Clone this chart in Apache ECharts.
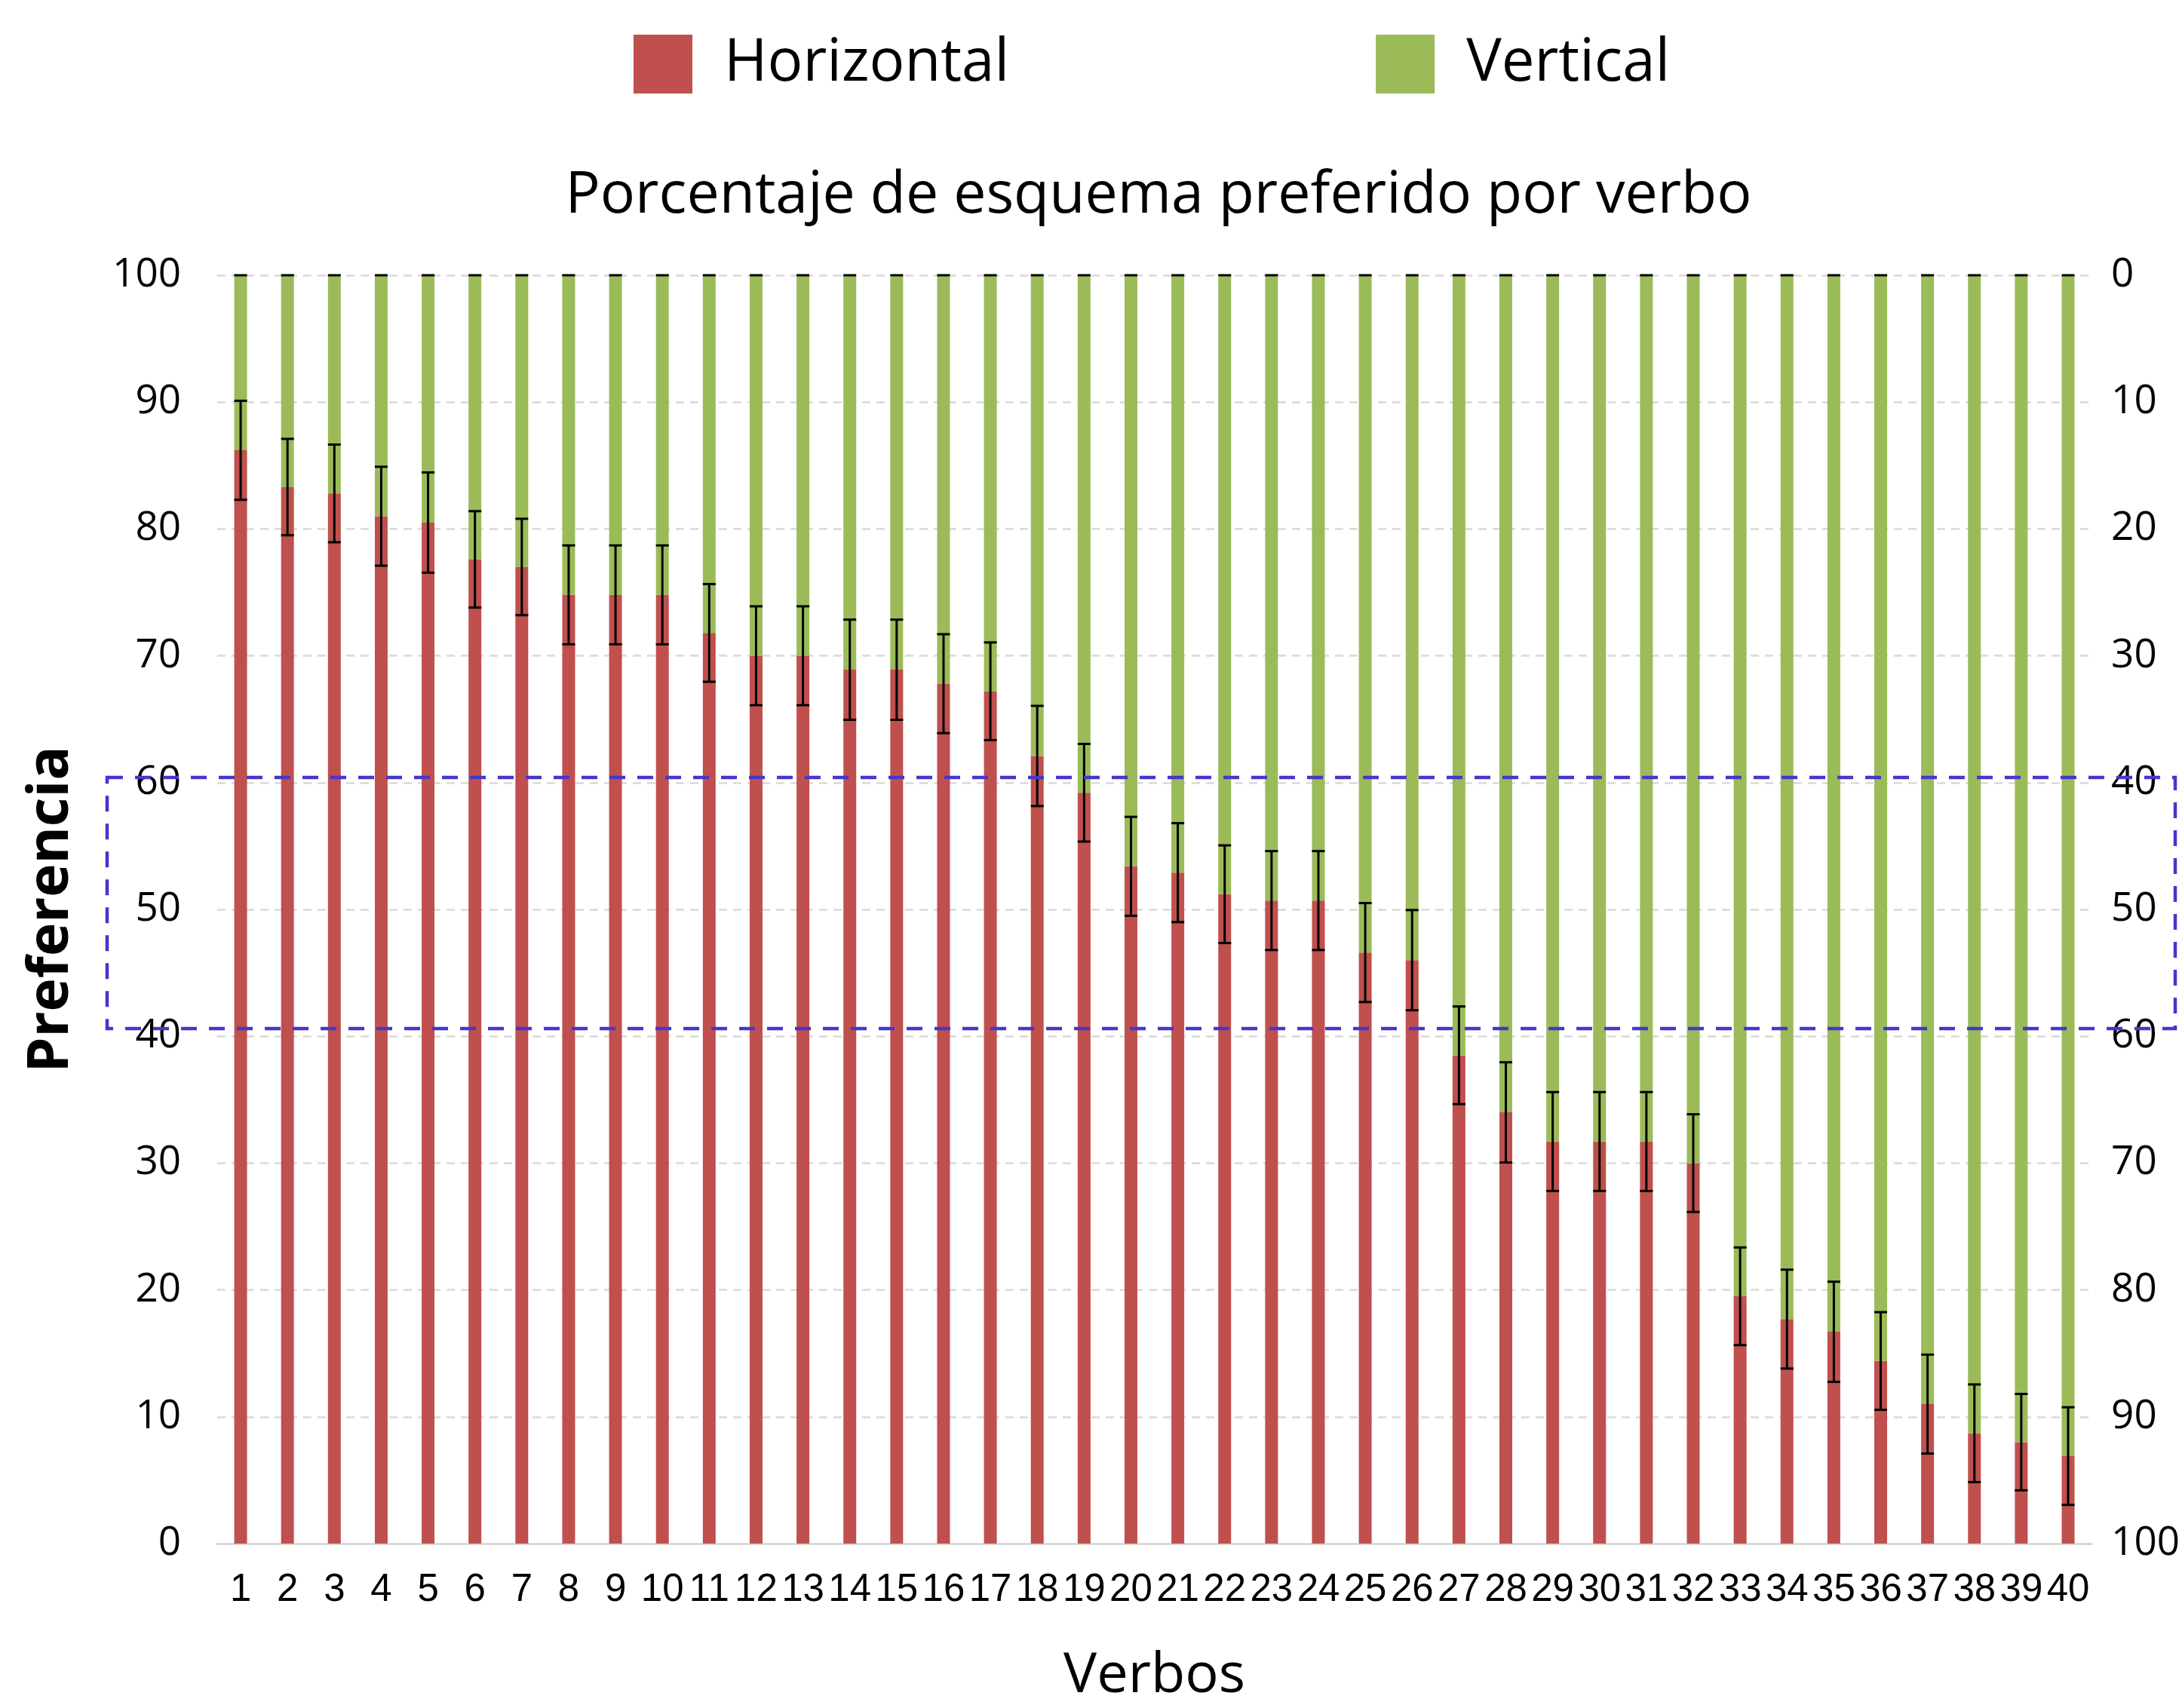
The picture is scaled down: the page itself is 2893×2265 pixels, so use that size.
<!DOCTYPE html>
<html>
<head>
<meta charset="utf-8">
<script src="https://cdn.jsdelivr.net/npm/echarts@6/dist/echarts.min.js"></script>
<style>
html,body{margin:0;padding:0;background:#fff;}
#chart{width:2893px;height:2265px;}
</style>
</head>
<body>
<div id="chart"></div>
<script>
const categories = ['1','2','3','4','5','6','7','8','9','10','11','12','13','14','15','16','17','18','19','20',
  '21','22','23','24','25','26','27','28','29','30','31','32','33','34','35','36','37','38','39','40'];
const horizontal = [86.2,83.3,82.8,81.0,80.5,77.6,77.0,74.8,74.8,74.8,71.8,70.0,70.0,68.9,68.9,67.8,67.2,62.1,59.2,53.4,
  52.9,51.2,50.7,50.7,46.6,46.0,38.5,34.0,31.7,31.7,31.7,30.0,19.5,17.7,16.7,14.4,11.0,8.7,8.0,6.9];
const vertical = horizontal.map(v => +(100 - v).toFixed(1));
const hErr = [3.9,3.8,3.85,3.9,3.95,3.8,3.8,3.9,3.9,3.9,3.85,3.9,3.9,3.95,3.95,3.9,3.85,3.95,3.85,3.9,
  3.9,3.85,3.9,3.9,3.9,3.95,3.85,3.95,3.9,3.9,3.9,3.85,3.85,3.9,3.95,3.85,3.9,3.85,3.8,3.85];
const leftTicks = {min:0, max:100, interval:10};
const bandLimits = [60.4, 40.6];

const RED = '#C0504D', GREEN = '#9BBB59', BLUE = '#4636CC';
const errData = horizontal.map((v, i) => [i, v - hErr[i], v + hErr[i]]);
const topCapData = horizontal.map((v, i) => [i, 100, 100]);

const CAP = 17;
function renderErr(params, api) {
  const x = api.value(0), lo = api.value(1), hi = api.value(2);
  const a = api.coord([x, hi]), b = api.coord([x, lo]);
  const st = {stroke:'#000', lineWidth:3};
  const ch = [];
  if (hi !== lo) ch.push({type:'line', shape:{x1:a[0], y1:a[1], x2:b[0], y2:b[1]}, style:st});
  ch.push({type:'line', shape:{x1:a[0]-CAP/2, y1:a[1], x2:a[0]+CAP/2, y2:a[1]}, style:st});
  if (hi !== lo) ch.push({type:'line', shape:{x1:b[0]-CAP/2, y1:b[1], x2:b[0]+CAP/2, y2:b[1]}, style:st});
  return {type:'group', children:ch};
}

const chart = echarts.init(document.getElementById('chart'), null, {renderer:'canvas'});
const FONT = 'Open Sans';
const option = {
  animation:false,
  backgroundColor:'#fff',
  title:{
    text:'Porcentaje de esquema preferido por verbo',
    left:1531, top:217, textAlign:'center',
    textStyle:{fontFamily:FONT, fontSize:77, fontWeight:'normal', color:'#000'}
  },
  legend:{
    data:['Horizontal','Vertical'],
    left:835, top:41, itemWidth:78, itemHeight:78, itemGap:486,
    icon:'rect',
    textStyle:{fontFamily:FONT, fontSize:78, color:'#000', padding:[0,0,0,37]}
  },
  grid:{left:288, right:118, top:365, bottom:207, containLabel:false},
  xAxis:{
    type:'category', data:categories,
    boundaryGap:true,
    axisLine:{show:true, lineStyle:{color:'#D9D9D9', width:3}},
    axisTick:{show:false},
    axisLabel:{interval:0, margin:36, fontFamily:'Liberation Sans', fontSize:51, color:'#000'},
    name:'Verbos', nameLocation:'middle', nameGap:139,
    nameTextStyle:{fontFamily:FONT, fontSize:74, color:'#000'}
  },
  yAxis:[{
    type:'value', min:leftTicks.min, max:leftTicks.max, interval:leftTicks.interval,
    axisLine:{show:false}, axisTick:{show:false},
    axisLabel:{margin:48, fontFamily:FONT, fontSize:53, color:'#000'},
    splitLine:{show:true, lineStyle:{color:'#D9D9D9', width:2.5, type:[11,8]}},
    name:'Preferencia', nameLocation:'middle', nameGap:182, nameRotate:90,
    nameTextStyle:{fontFamily:FONT, fontSize:75, fontWeight:'bold', color:'#000'}
  },{
    type:'value', min:leftTicks.min, max:leftTicks.max, interval:leftTicks.interval, inverse:true,
    position:'right',
    axisLine:{show:false}, axisTick:{show:false},
    axisLabel:{margin:26, fontFamily:FONT, fontSize:53, color:'#000'},
    splitLine:{show:false}
  }],
  series:[
    {name:'Horizontal', type:'bar', stack:'s', data:horizontal, barWidth:17, itemStyle:{color:RED}, z:2},
    {name:'Vertical', type:'bar', stack:'s', data:vertical, barWidth:17, itemStyle:{color:GREEN}, z:2},
    {name:'err', type:'custom', renderItem:renderErr, data:errData, encode:{x:0, y:[1,2]}, z:5, silent:true},
    {name:'cap', type:'custom', renderItem:renderErr, data:topCapData, encode:{x:0, y:[1,2]}, z:5, silent:true}
  ]
};
chart.setOption(option);

const yTop = chart.convertToPixel({yAxisIndex:0}, bandLimits[0]);
const yBot = chart.convertToPixel({yAxisIndex:0}, bandLimits[1]);
chart.setOption({
  graphic:[{
    type:'rect', z:10, silent:true,
    shape:{x:142, y:yTop, width:2884-142, height:yBot - yTop},
    style:{fill:'none', stroke:BLUE, lineWidth:4.5, lineDash:[21,16]}
  }]
});
</script>
</body>
</html>
